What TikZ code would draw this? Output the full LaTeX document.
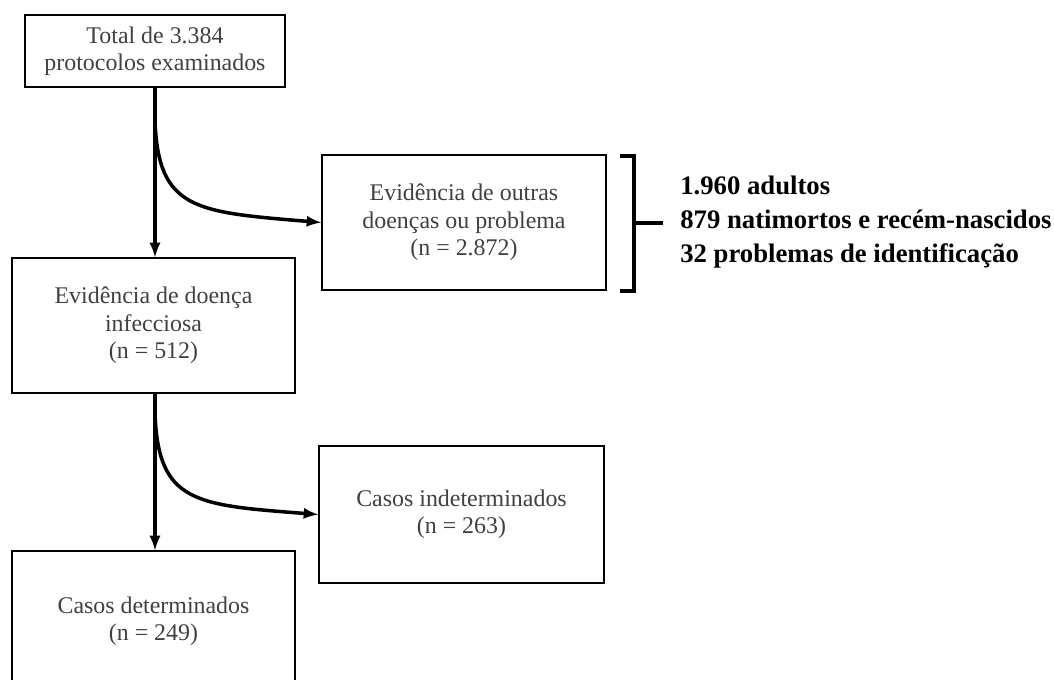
\documentclass[tikz,border=0pt]{standalone}
\usepackage{fontspec}
\setmainfont{Liberation Serif}
\usepackage{tikz}
\usetikzlibrary{shapes,arrows,positioning,calc}

\begin{document}
\begin{tikzpicture}[x=0.025cm,y=-0.025cm,
    box/.style={draw, line width=1.1pt, text=black!75, font=\fontsize{17}{19.5}\selectfont, align=center, inner sep=0pt},
    flow/.style={-latex, line width=2.5pt},
    brace/.style={line width=2.2pt}]

\useasboundingbox (0,0) rectangle (1054,679);

% Top box
\node[box, minimum width=6.5cm, minimum height=1.8cm] (total) at (155,51) {Total de 3.384\\protocolos examinados};

% Other diseases
\node[box, minimum width=7.1cm, minimum height=3.375cm] (outras) at (464,222.5) {Evidência de outras\\doenças ou problema\\(n = 2.872)};

% Infectious disease
\node[box, minimum width=7.075cm, minimum height=3.375cm] (infec) at (153.5,325.5) {Evidência de doença\\infecciosa\\(n = 512)};

% Undetermined cases
\node[box, minimum width=7.125cm, minimum height=3.425cm] (indet) at (461.5,514.5) {Casos indeterminados\\(n = 263)};

% Determined cases
\node[box, minimum width=7.075cm, minimum height=3.5cm] (determ) at (153.5,621) {Casos determinados\\(n = 249)};

% Arrows from top box
\coordinate (split1) at (155,120);
\draw[flow] (total.south -| split1) -- (infec.north -| split1);
\draw[flow] (split1) .. controls (158,210) and (195,212) .. (outras.west);

% Arrows from infectious box
\coordinate (split2) at (155,413);
\draw[flow] (infec.south -| split2) -- (determ.north -| split2);
\draw[flow] (split2) .. controls (158,503) and (195,505) .. (indet.west);

% Bracket with breakdown
\coordinate (brtop) at (634,156);
\coordinate (brbot) at (634,291);
\coordinate (brmid) at (634,223);
\coordinate (brtip) at (663,223);
\draw[brace] ($(brtop)+(-14,0)$) -- (brtop) -- (brbot) -- ($(brbot)+(-14,0)$);
\draw[brace] (brmid) -- (brtip);
\node[anchor=west, align=left, font=\bfseries\fontsize{19}{24.2}\selectfont, inner sep=0pt] (detail) at (680,222) {1.960 adultos\\879 natimortos e recém-nascidos\\32 problemas de identificação};

\end{tikzpicture}
\end{document}
